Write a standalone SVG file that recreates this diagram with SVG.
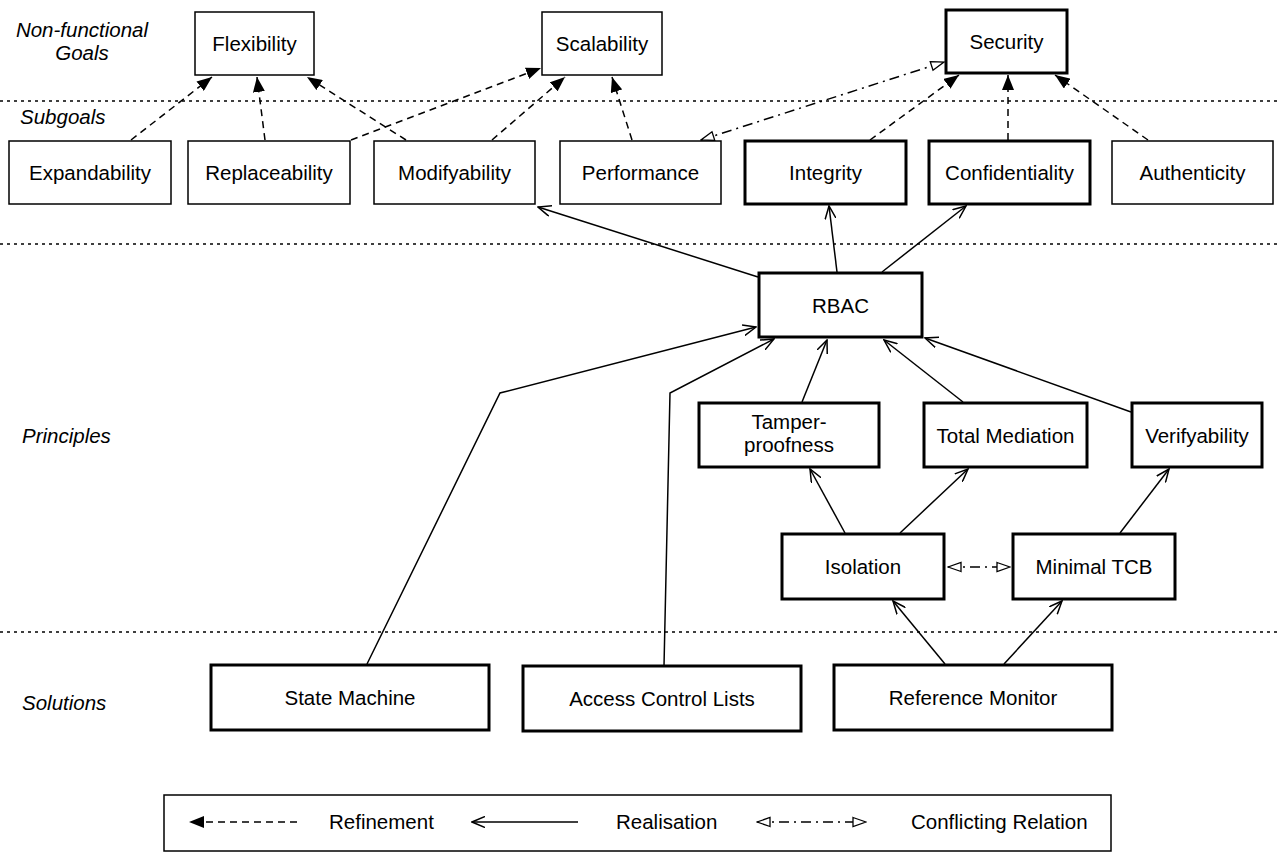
<svg xmlns="http://www.w3.org/2000/svg" width="1278" height="854" viewBox="0 0 1278 854">
<style>
text{font-family:"Liberation Sans",Arial,Helvetica,sans-serif;font-size:20.5px;fill:#000}
.lbl{text-anchor:middle}
.row{font-style:italic}
.thin{fill:#fff;stroke:#000;stroke-width:1.5}
.thick{fill:#fff;stroke:#000;stroke-width:3}
.sep{stroke:#000;stroke-width:1.5;stroke-dasharray:3 4;fill:none}
.ref{stroke:#000;stroke-width:1.5;fill:none;stroke-dasharray:7 5;marker-end:url(#mRef)}
.rea{stroke:#000;stroke-width:1.5;fill:none;marker-end:url(#mRea)}
.con{stroke:#000;stroke-width:1.5;fill:none;stroke-dasharray:10 5 2 5;marker-end:url(#mCon);marker-start:url(#mCon)}
</style>
<defs>
<marker id="mRef" viewBox="0 0 15 12" refX="15" refY="6" markerWidth="15" markerHeight="12" markerUnits="userSpaceOnUse" orient="auto-start-reverse"><path d="M0,0 L15,6 L0,12 z" fill="#000" stroke="none"/></marker>
<marker id="mRea" viewBox="0 0 14 12" refX="13" refY="6" markerWidth="14" markerHeight="12" markerUnits="userSpaceOnUse" orient="auto-start-reverse"><path d="M0,0.5 L13,6 L0,11.5" fill="none" stroke="#000" stroke-width="1.5" stroke-dasharray="none"/></marker>
<marker id="mCon" viewBox="0 0 15 12" refX="14" refY="6" markerWidth="15" markerHeight="12" markerUnits="userSpaceOnUse" orient="auto-start-reverse"><path d="M1,1.5 L14,6 L1,10.5 z" fill="#fff" stroke="#000" stroke-width="1.3" stroke-dasharray="none"/></marker>
</defs>
<rect width="1278" height="854" fill="#fff"/>
<g id="layers">
<line class="sep" x1="0" y1="101" x2="1278" y2="101"/>
<line class="sep" x1="0" y1="244" x2="1278" y2="244"/>
<line class="sep" x1="0" y1="632" x2="1278" y2="632"/>
<text class="row lbl" x="82" y="37">Non-functional</text>
<text class="row lbl" x="82" y="60">Goals</text>
<text class="row" x="20" y="124">Subgoals</text>
<text class="row" x="22" y="443">Principles</text>
<text class="row" x="22" y="710">Solutions</text>
</g>
<g id="connectors">
<line class="ref" x1="131" y1="140" x2="212" y2="77"/>
<line class="ref" x1="265" y1="140" x2="257" y2="77"/>
<line class="ref" x1="406" y1="140" x2="307" y2="77"/>
<line class="ref" x1="351" y1="140" x2="541" y2="68"/>
<line class="ref" x1="492" y1="140" x2="565" y2="77"/>
<line class="ref" x1="632" y1="140" x2="612" y2="77"/>
<line class="ref" x1="870" y1="140" x2="959" y2="75"/>
<line class="ref" x1="1008" y1="140" x2="1008" y2="75"/>
<line class="ref" x1="1148" y1="140" x2="1055" y2="75"/>
<line class="con" x1="701" y1="140" x2="944" y2="62"/>
<line class="rea" x1="758" y1="277" x2="538" y2="207"/>
<line class="rea" x1="837" y1="272" x2="829" y2="206"/>
<line class="rea" x1="882" y1="272" x2="966" y2="206"/>
<polyline class="rea" points="367,664 500,393 756,327"/>
<polyline class="rea" points="664,666 670,393 774,339"/>
<line class="rea" x1="802" y1="402" x2="827" y2="340"/>
<line class="rea" x1="963" y1="402" x2="884" y2="340"/>
<line class="rea" x1="1131" y1="412" x2="925" y2="338"/>
<line class="rea" x1="845" y1="533" x2="810" y2="469"/>
<line class="rea" x1="900" y1="533" x2="968" y2="469"/>
<line class="rea" x1="1120" y1="533" x2="1169" y2="469"/>
<line class="rea" x1="945" y1="664" x2="893" y2="601"/>
<line class="rea" x1="1004" y1="664" x2="1062" y2="601"/>
<line class="con" x1="948" y1="567" x2="1010" y2="567"/>
</g>
<g id="flexibility"><rect class="thin" x="195" y="12" width="119" height="63"/><text class="lbl" x="254.5" y="51">Flexibility</text></g>
<g id="scalability"><rect class="thin" x="542" y="12" width="120" height="63"/><text class="lbl" x="602" y="51">Scalability</text></g>
<g id="security"><rect class="thick" x="946" y="10" width="121" height="63"/><text class="lbl" x="1006.5" y="49">Security</text></g>
<g id="expandability"><rect class="thin" x="9" y="141" width="162" height="63"/><text class="lbl" x="90" y="180">Expandability</text></g>
<g id="replaceability"><rect class="thin" x="188" y="141" width="162" height="63"/><text class="lbl" x="269" y="180">Replaceability</text></g>
<g id="modifyability"><rect class="thin" x="374" y="141" width="161" height="63"/><text class="lbl" x="454.5" y="180">Modifyability</text></g>
<g id="performance"><rect class="thin" x="560" y="141" width="161" height="63"/><text class="lbl" x="640.5" y="180">Performance</text></g>
<g id="integrity"><rect class="thick" x="745" y="141" width="161" height="63"/><text class="lbl" x="825.5" y="180">Integrity</text></g>
<g id="confidentiality"><rect class="thick" x="929" y="141" width="161" height="63"/><text class="lbl" x="1009.5" y="180">Confidentiality</text></g>
<g id="authenticity"><rect class="thin" x="1112" y="141" width="161" height="63"/><text class="lbl" x="1192.5" y="180">Authenticity</text></g>
<g id="rbac"><rect class="thick" x="759" y="273" width="163" height="64"/><text class="lbl" x="840.5" y="313">RBAC</text></g>
<g id="tamperproofness"><rect class="thick" x="699" y="403" width="180" height="64"/><text class="lbl" x="789" y="429">Tamper-</text><text class="lbl" x="789" y="452">proofness</text></g>
<g id="totalmediation"><rect class="thick" x="924" y="403" width="163" height="64"/><text class="lbl" x="1005.5" y="443">Total Mediation</text></g>
<g id="verifyability"><rect class="thick" x="1132" y="403" width="130" height="64"/><text class="lbl" x="1197" y="443">Verifyability</text></g>
<g id="isolation"><rect class="thick" x="782" y="534" width="162" height="65"/><text class="lbl" x="863" y="574">Isolation</text></g>
<g id="minimaltcb"><rect class="thick" x="1013" y="534" width="162" height="65"/><text class="lbl" x="1094" y="574">Minimal TCB</text></g>
<g id="statemachine"><rect class="thick" x="211" y="665" width="278" height="65"/><text class="lbl" x="350" y="705">State Machine</text></g>
<g id="acl"><rect class="thick" x="523" y="666" width="278" height="65"/><text class="lbl" x="662" y="706">Access Control Lists</text></g>
<g id="referencemonitor"><rect class="thick" x="834" y="665" width="278" height="65"/><text class="lbl" x="973" y="705">Reference Monitor</text></g>
<g id="legend">
<rect class="thin" x="164" y="795" width="947" height="56"/>
<line class="ref" x1="297" y1="822" x2="189" y2="822"/>
<text x="329" y="829">Refinement</text>
<line class="rea" x1="578" y1="822" x2="472" y2="822"/>
<text x="616" y="829">Realisation</text>
<line class="con" x1="757" y1="822" x2="866" y2="822"/>
<text x="911" y="829">Conflicting Relation</text>
</g>
</svg>
